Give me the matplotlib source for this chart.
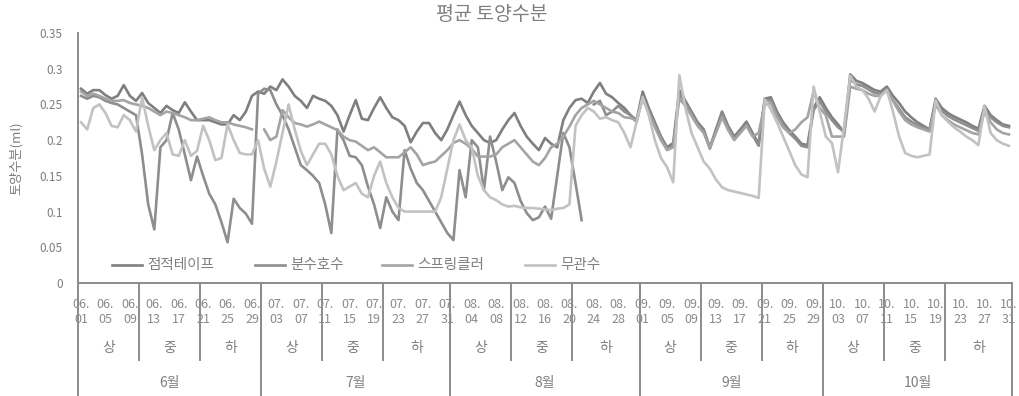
import numpy as np
import pandas as pd
import matplotlib
matplotlib.use('Agg')
import matplotlib.pyplot as plt
from matplotlib.lines import Line2D

plt.rcParams['font.family'] = ['Noto Sans CJK KR', 'DejaVu Sans']

nan = np.nan

# daily mean soil moisture, 06.01 - 10.31 (one line per month)
drip = [
    0.272, 0.265, 0.270, 0.270, 0.263, 0.258, 0.262, 0.277, 0.262, 0.255, 0.266, 0.252, 0.245, 0.238, 0.248,
    0.242, 0.238, 0.253, 0.240, 0.228, 0.228, 0.228, 0.225, 0.222, 0.222, 0.235, 0.228, 0.240, 0.262, 0.268,
    0.265, 0.275, 0.270, 0.285, 0.275, 0.262, 0.255, 0.245, 0.262, 0.258, 0.255, 0.248, 0.235, 0.212, 0.235,
    0.256, 0.230, 0.228, 0.245, 0.260, 0.245, 0.232, 0.228, 0.220, 0.197, 0.212, 0.224, 0.224, 0.210, 0.200, 0.215,
    0.235, 0.254, 0.235, 0.220, 0.210, 0.200, 0.196, 0.200, 0.215, 0.228, 0.238, 0.220, 0.205, 0.195, 0.186,
    0.203, 0.195, 0.190, 0.228, 0.245, 0.256, 0.258, 0.252, 0.268, 0.280, 0.265, 0.260, 0.252, 0.245, 0.235, 0.228,
    0.268, 0.245, 0.225, 0.205, 0.190, 0.196, 0.270, 0.255, 0.240, 0.225, 0.215, 0.190, 0.215, 0.240, 0.220,
    0.205, 0.215, 0.226, 0.210, 0.195, 0.258, 0.260, 0.240, 0.225, 0.214, 0.205, 0.195, 0.193, 0.245, 0.260,
    0.245, 0.232, 0.222, 0.210, 0.292, 0.283, 0.280, 0.275, 0.270, 0.268, 0.275, 0.262, 0.252, 0.240, 0.232,
    0.225, 0.220, 0.215, 0.258, 0.245, 0.238, 0.233, 0.229, 0.225, 0.220, 0.216, 0.248, 0.235, 0.228, 0.222, 0.220,
]
fountain = [
    0.262, 0.258, 0.262, 0.260, 0.255, 0.252, 0.250, 0.245, 0.240, 0.235, 0.180, 0.110, 0.075, 0.190, 0.200,
    0.238, 0.215, 0.180, 0.144, 0.177, 0.150, 0.125, 0.110, 0.085, 0.057, 0.118, 0.105, 0.097, 0.083, 0.265,
    0.272, 0.270, 0.250, 0.235, 0.215, 0.190, 0.165, 0.158, 0.150, 0.140, 0.110, 0.070, 0.215, 0.200, 0.178,
    0.176, 0.165, 0.135, 0.110, 0.077, 0.120, 0.100, 0.088, 0.186, 0.160, 0.140, 0.130, 0.115, 0.100, 0.085, 0.070,
    0.060, 0.158, 0.120, 0.200, 0.190, 0.130, 0.205, 0.170, 0.130, 0.148, 0.140, 0.115, 0.098, 0.088, 0.092,
    0.107, 0.090, 0.150, 0.210, 0.190, 0.140, 0.088, nan, 0.250, 0.255, 0.235, 0.240, 0.248, 0.240, 0.235, 0.225,
    0.262, 0.240, 0.222, 0.203, 0.188, 0.192, 0.265, 0.252, 0.238, 0.222, 0.212, 0.188, 0.212, 0.236, 0.217,
    0.202, 0.212, 0.222, 0.207, 0.192, 0.255, 0.256, 0.236, 0.222, 0.210, 0.202, 0.192, 0.190, 0.242, 0.255,
    0.240, 0.228, 0.218, 0.212, 0.285, 0.278, 0.276, 0.271, 0.266, 0.265, 0.272, 0.256, 0.244, 0.232, 0.226,
    0.221, 0.218, 0.214, 0.254, 0.241, 0.234, 0.229, 0.225, 0.221, 0.217, 0.213, 0.244, 0.232, 0.225, 0.220, 0.218,
]
sprinkler = [
    0.268, 0.262, 0.265, 0.262, 0.258, 0.255, 0.255, 0.256, 0.252, 0.250, 0.248, 0.245, 0.240, 0.235, 0.240,
    0.238, 0.235, 0.232, 0.228, 0.228, 0.230, 0.232, 0.228, 0.225, 0.225, 0.222, 0.220, 0.218, 0.215, nan,
    0.215, 0.200, 0.205, 0.242, 0.232, 0.224, 0.222, 0.219, 0.222, 0.226, 0.222, 0.218, 0.214, 0.205, 0.200,
    0.198, 0.192, 0.186, 0.190, 0.183, 0.176, 0.176, 0.176, 0.183, 0.190, 0.180, 0.165, 0.168, 0.170, 0.178, 0.186,
    0.196, 0.200, 0.195, 0.188, 0.177, 0.177, 0.177, 0.180, 0.190, 0.195, 0.200, 0.190, 0.180, 0.170, 0.165,
    0.175, 0.190, 0.195, 0.205, 0.219, 0.235, 0.245, 0.250, 0.255, 0.250, 0.245, 0.240, 0.238, 0.232, 0.231, 0.228,
    0.258, 0.238, 0.218, 0.200, 0.186, 0.190, 0.258, 0.248, 0.234, 0.220, 0.210, 0.190, 0.210, 0.232, 0.214,
    0.200, 0.210, 0.220, 0.205, 0.210, 0.250, 0.252, 0.232, 0.218, 0.210, 0.215, 0.225, 0.232, 0.268, 0.245,
    0.235, 0.205, 0.205, 0.205, 0.275, 0.272, 0.270, 0.265, 0.262, 0.262, 0.270, 0.255, 0.240, 0.228, 0.222,
    0.218, 0.215, 0.212, 0.250, 0.235, 0.228, 0.222, 0.218, 0.214, 0.210, 0.208, 0.240, 0.225, 0.215, 0.210, 0.208,
]
no_irrigation = [
    0.225, 0.215, 0.245, 0.250, 0.238, 0.220, 0.218, 0.235, 0.228, 0.212, 0.260, 0.220, 0.186, 0.200, 0.210,
    0.180, 0.178, 0.200, 0.178, 0.185, 0.220, 0.200, 0.172, 0.175, 0.222, 0.200, 0.182, 0.180, 0.180, 0.200,
    0.160, 0.135, 0.170, 0.210, 0.250, 0.215, 0.185, 0.165, 0.180, 0.195, 0.195, 0.180, 0.150, 0.130, 0.135,
    0.140, 0.125, 0.120, 0.150, 0.170, 0.140, 0.120, 0.105, 0.100, 0.100, 0.100, 0.100, 0.100, 0.100, 0.120, 0.160,
    0.200, 0.222, 0.200, 0.190, 0.150, 0.130, 0.120, 0.116, 0.110, 0.107, 0.108, 0.106, 0.105, 0.105, 0.104,
    0.103, 0.102, 0.104, 0.105, 0.110, 0.220, 0.235, 0.245, 0.240, 0.230, 0.232, 0.228, 0.225, 0.210, 0.190, 0.225,
    0.260, 0.235, 0.200, 0.175, 0.162, 0.141, 0.291, 0.245, 0.210, 0.190, 0.170, 0.160, 0.145, 0.134, 0.130,
    0.128, 0.126, 0.124, 0.122, 0.119, 0.257, 0.243, 0.225, 0.205, 0.185, 0.165, 0.152, 0.148, 0.275, 0.240,
    0.205, 0.196, 0.155, 0.220, 0.290, 0.275, 0.270, 0.258, 0.240, 0.262, 0.270, 0.240, 0.205, 0.182, 0.178,
    0.176, 0.178, 0.180, 0.256, 0.235, 0.226, 0.218, 0.212, 0.205, 0.200, 0.193, 0.247, 0.210, 0.200, 0.195, 0.192,
]

series = [drip, fountain, sprinkler, no_irrigation]
series_names = ['점적테이프', '분수호수', '스프링클러', '무관수']
series_colors = ['#7f7f7f', '#8e8e8e', '#a4a4a4', '#c2c2c2']

dekad_names = ['상', '중', '하']
month_names = ['6월', '7월', '8월', '9월', '10월']
ytick_values = [0, 0.05, 0.1, 0.15, 0.2, 0.25, 0.3, 0.35]
ytick_labels = ['0', '0.05', '0.1', '0.15', '0.2', '0.25', '0.3', '0.35']

TEXT_COLOR = '#7f7f7f'
GRID_COLOR = '#8c8c8c'
W, H = 1019, 396

dates = pd.date_range('2019-06-01', '2019-10-31', freq='D')
n = len(dates)
x = np.arange(n)
date_labels = ['{:02d}.\n{:02d}'.format(d.month, d.day) for d in dates]

fig = plt.figure(figsize=(W / 100, H / 100), dpi=100)
ax = fig.add_axes([78 / W, 1 - 283 / H, (1012 - 78) / W, 250 / H])

for vals, name, color in zip(series, series_names, series_colors):
    ax.plot(x, np.array(vals, dtype=float), color=color, lw=1.9,
            solid_joinstyle='round', label=name)

ax.set_xlim(-0.5, n - 0.5)
ax.set_ylim(0, 0.35)
ax.set_yticks(ytick_values)
ax.set_yticklabels(ytick_labels)
ax.tick_params(axis='y', length=0, pad=11, labelsize=8.5, labelcolor=TEXT_COLOR)

# every fourth day gets a label, like the spreadsheet does
ax.set_xticks(x[::4])
ax.set_xticklabels(date_labels[::4], linespacing=1.2)
ax.tick_params(axis='x', length=0, pad=11, labelsize=9, labelcolor='#8a8a8a')

for side in ['top', 'right']:
    ax.spines[side].set_visible(False)
for side in ['left', 'bottom']:
    ax.spines[side].set_color(GRID_COLOR)
    ax.spines[side].set_linewidth(1.4)

# multi level category axis: dekad and month boxes under the dates
trans = ax.get_xaxis_transform()
dekad = np.minimum((dates.day.values - 1) // 10, 2)
group = dates.month.values * 3 + dekad
dekad_edges = np.flatnonzero(np.diff(group)) + 0.5
month_edges = np.concatenate([[-0.5], np.flatnonzero(np.diff(dates.month.values)) + 0.5, [n - 0.5]])

y_dekad = (283 - 360) / 250
y_month = (283 - 396) / 250
for e in dekad_edges:
    ax.plot([e, e], [0, y_dekad], transform=trans, color=GRID_COLOR, lw=1.4, clip_on=False)
for e in month_edges:
    ax.plot([e, e], [0, y_month], transform=trans, color=GRID_COLOR, lw=1.4, clip_on=False)

for g in np.unique(group):
    idx = x[group == g]
    ax.text(idx.mean(), (283 - 348) / 250, dekad_names[g % 3], transform=trans,
            ha='center', va='center', fontsize=10, color=TEXT_COLOR)

for m, name in zip(np.unique(dates.month.values), month_names):
    idx = x[dates.month.values == m]
    ax.text(idx.mean(), (283 - 383) / 250, name, transform=trans,
            ha='center', va='center', fontsize=10, color=TEXT_COLOR)

# legend row inside the plot area
legend_x = [112, 255, 382, 525]
legend_y = 1 - 265 / H
for x0, name, color in zip(legend_x, series_names, series_colors):
    fig.add_artist(Line2D([x0 / W, (x0 + 30) / W], [legend_y, legend_y],
                          color=color, lw=1.9))
    fig.text((x0 + 35) / W, legend_y, name, ha='left', va='center',
             fontsize=10.5, color=TEXT_COLOR)

fig.text(492 / W, 1 - 15 / H, '평균 토양수분', ha='center', va='center',
         fontsize=14, color=TEXT_COLOR)
fig.text(16 / W, 1 - 158 / H, '토양수분(ml)', ha='center', va='center',
         rotation=90, fontsize=9.5, color=TEXT_COLOR)

fig.savefig('out.png', dpi=100)
